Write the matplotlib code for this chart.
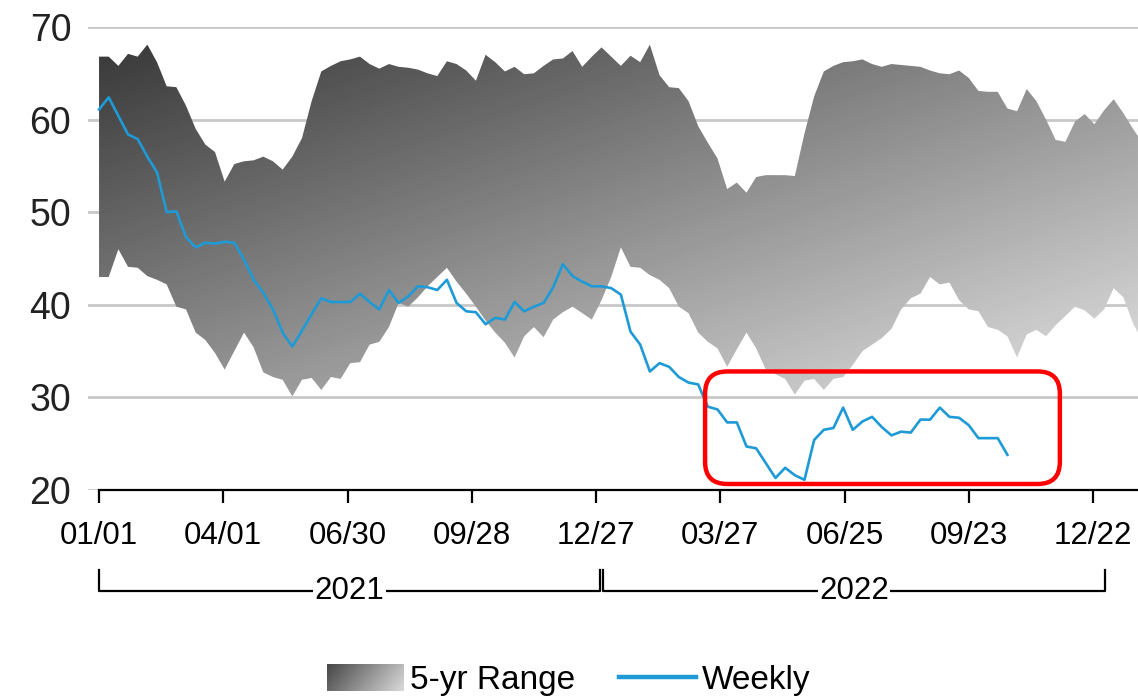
import numpy as np
import pandas as pd
import matplotlib
matplotlib.use("Agg")
import matplotlib.pyplot as plt
import matplotlib.dates as mdates
from matplotlib.patches import Patch, FancyBboxPatch
from matplotlib.lines import Line2D
from matplotlib.legend_handler import HandlerBase
from matplotlib.image import BboxImage
from matplotlib.transforms import Bbox, TransformedBbox
from matplotlib.colors import Normalize

plt.rcParams['font.family'] = ['Liberation Sans', 'DejaVu Sans']

# 5-yr range, weekly from 2021-01-01
range_hi = [66.8, 66.8, 65.8, 67.1, 66.8, 68.1, 66.2, 63.6, 63.5, 61.5,
            59.0, 57.3, 56.5, 53.3, 55.2, 55.5, 55.6, 56.0, 55.5, 54.6,
            56.0, 58.0, 62.0, 65.2, 65.8, 66.3, 66.5, 66.8, 66.0, 65.5,
            66.0, 65.7, 65.6, 65.4, 65.0, 64.7, 66.3, 66.0, 65.3, 64.2,
            67.0, 66.2, 65.2, 65.7, 64.9, 65.0, 65.8, 66.5, 66.6, 67.4,
            65.7, 66.8, 67.8, 66.8, 65.8, 66.9, 66.2, 68.1, 64.8, 63.5,
            63.4, 62.0, 59.3, 57.5, 55.8, 52.5, 53.2, 52.1, 53.8, 54.0,
            54.0, 54.0, 53.9, 58.5, 62.5, 65.2, 65.8, 66.2, 66.3, 66.5,
            66.0, 65.7, 66.0, 65.9, 65.8, 65.7, 65.3, 65.0, 64.9, 65.3,
            64.5, 63.1, 63.0, 63.0, 61.2, 60.9, 63.3, 62.0, 60.0, 57.8,
            57.6, 59.8, 60.6, 59.5, 61.0, 62.2, 60.7, 59.0, 57.5]
range_lo = [43.0, 43.0, 46.0, 44.1, 44.0, 43.1, 42.7, 42.2, 39.8, 39.5,
            37.0, 36.2, 34.8, 33.0, 35.0, 37.0, 35.4, 32.7, 32.2, 31.9,
            30.1, 31.9, 32.1, 30.8, 32.2, 32.0, 33.7, 33.8, 35.7, 36.0,
            37.6, 40.2, 39.8, 40.8, 42.0, 43.0, 44.0, 42.5, 41.2, 39.8,
            38.3, 37.0, 35.9, 34.3, 36.6, 37.6, 36.5, 38.4, 39.2, 39.8,
            39.1, 38.4, 40.5, 43.0, 46.2, 44.1, 44.0, 43.2, 42.7, 41.8,
            39.8, 39.1, 37.0, 36.0, 35.3, 33.3, 35.2, 37.0, 35.3, 33.0,
            32.5, 32.0, 30.3, 31.8, 32.0, 30.8, 32.0, 32.2, 33.5, 35.0,
            35.7, 36.4, 37.4, 39.5, 40.7, 41.2, 43.0, 42.2, 42.4, 40.5,
            39.5, 39.3, 37.6, 37.3, 36.6, 34.3, 36.8, 37.3, 36.6, 37.8,
            38.8, 39.8, 39.4, 38.5, 39.5, 41.8, 40.8, 38.0, 36.0]
weekly = [61.1, 62.4, 60.4, 58.4, 57.9, 56.0, 54.3, 50.0, 50.1, 47.3,
          46.2, 46.7, 46.6, 46.8, 46.7, 44.9, 42.7, 41.3, 39.5, 37.0,
          35.5, 37.2, 39.0, 40.7, 40.3, 40.3, 40.3, 41.2, 40.3, 39.5,
          41.6, 40.2, 40.9, 42.0, 41.9, 41.6, 42.7, 40.2, 39.3, 39.2,
          37.9, 38.6, 38.4, 40.3, 39.3, 39.8, 40.2, 41.9, 44.4, 43.1,
          42.5, 42.0, 42.0, 41.8, 41.1, 37.1, 35.7, 32.8, 33.7, 33.3,
          32.2, 31.6, 31.4, 29.0, 28.7, 27.3, 27.3, 24.7, 24.5, 22.9,
          21.3, 22.4, 21.6, 21.1, 25.4, 26.5, 26.7, 28.9, 26.5, 27.4,
          27.9, 26.8, 25.9, 26.3, 26.2, 27.6, 27.6, 28.9, 27.9, 27.8,
          27.0, 25.6, 25.6, 25.6, 23.8]

start = pd.Timestamp('2021-01-01')
range_dates = pd.date_range(start, periods=len(range_hi), freq='7D')
weekly_dates = pd.date_range(start, periods=len(weekly), freq='7D')
tick_dates = pd.date_range(start, periods=9, freq='90D')
years = [('2021', '2021-01-01', '2021-12-30'), ('2022', '2022-01-01', '2022-12-31')]
# highlighted period (red box)
box_start, box_end = pd.Timestamp('2022-03-16'), pd.Timestamp('2022-11-28')
box_lo, box_hi = 20.65, 32.8

x0 = mdates.date2num(start)
xlim = (x0 - 8, x0 + 752.6)

fig = plt.figure(figsize=(11.38, 6.98), dpi=100)
ax = fig.add_axes([88 / 1138, 1 - 490 / 698, 1 - 88 / 1138, 463 / 698])

# gradient image clipped to the range band
ny, nx = 463, 1050
fy = np.linspace(0, 1, ny)[:, None]
fx = np.linspace(0, 1, nx)[None, :]
grad = np.clip(0.20 + 0.34 * fx + 0.44 * fy, 0, 0.92)
im = ax.imshow(grad, extent=[xlim[0], xlim[1], 20, 70], aspect='auto',
               cmap='gray', vmin=0, vmax=1, origin='upper', zorder=1,
               interpolation='bilinear')
band = ax.fill_between(mdates.date2num(range_dates), range_lo, range_hi,
                       facecolor='none', edgecolor='none')
im.set_clip_path(band.get_paths()[0], transform=ax.transData)

ax.plot(weekly_dates, weekly, color='#1e9ad6', lw=1.9, zorder=3)

ax.set_xlim(xlim)
ax.set_ylim(20, 70)
ax.set_yticks([20, 30, 40, 50, 60, 70])
ax.yaxis.grid(True, color='#c8c8c8', lw=2)
ax.set_axisbelow(True)
for s in ['left', 'right', 'top']:
    ax.spines[s].set_visible(False)
ax.spines['bottom'].set_bounds(x0, xlim[1])
ax.spines['bottom'].set_linewidth(1.6)
ax.spines['bottom'].set_zorder(4)
ax.tick_params(axis='y', length=0, pad=12, labelsize=27, labelcolor='#222222')
ax.set_xticks(mdates.date2num(tick_dates))
ax.xaxis.set_major_formatter(mdates.DateFormatter('%m/%d'))
ax.tick_params(axis='x', direction='out', length=9, width=1.6, pad=13,
               labelsize=22.5)

# year brackets
tr = ax.get_xaxis_transform()
for label, a, b in years:
    xa, xb = mdates.date2num(pd.Timestamp(a)), mdates.date2num(pd.Timestamp(b))
    ax.plot([xa, xa, xb, xb], [-0.173, -0.218, -0.218, -0.173], transform=tr,
            color='black', lw=1.6, clip_on=False)
    ax.text((xa + xb) / 2, -0.218, label, transform=tr, ha='center', va='center',
            fontsize=22.5, bbox=dict(facecolor='white', edgecolor='none', pad=1))

# red highlight box
bx0, bx1 = mdates.date2num(box_start), mdates.date2num(box_end)
box = FancyBboxPatch((bx0, box_lo), bx1 - bx0, box_hi - box_lo,
                     boxstyle='round,pad=0,rounding_size=16',
                     mutation_aspect=0.1494, facecolor='none',
                     edgecolor='#ff0000', lw=3.2, zorder=5)
ax.add_patch(box)


class GradientHandler(HandlerBase):
    def create_artists(self, legend, orig_handle, xdescent, ydescent, width,
                       height, fontsize, trans):
        bb = TransformedBbox(Bbox.from_bounds(-xdescent, -ydescent, width, height), trans)
        img = BboxImage(bb, cmap='gray', norm=Normalize(0, 1), interpolation='bilinear')
        gy = np.linspace(0, 1, 20)[:, None]
        gx = np.linspace(0, 1, 60)[None, :]
        img.set_data(0.28 + 0.45 * gx + 0.12 * gy)
        return [img]


range_proxy = Patch(facecolor='#888888')
weekly_proxy = Line2D([], [], color='#1e9ad6', lw=3.2)
fig.legend([range_proxy, weekly_proxy], ['5-yr Range', 'Weekly'],
           handler_map={range_proxy: GradientHandler()},
           loc='center', bbox_to_anchor=(0.5, 1 - 680 / 698), ncol=2,
           frameon=False, fontsize=24, handlelength=2.3, handleheight=0.85,
           handletextpad=0.2, columnspacing=1.3)

fig.savefig('out.png', dpi=100)
